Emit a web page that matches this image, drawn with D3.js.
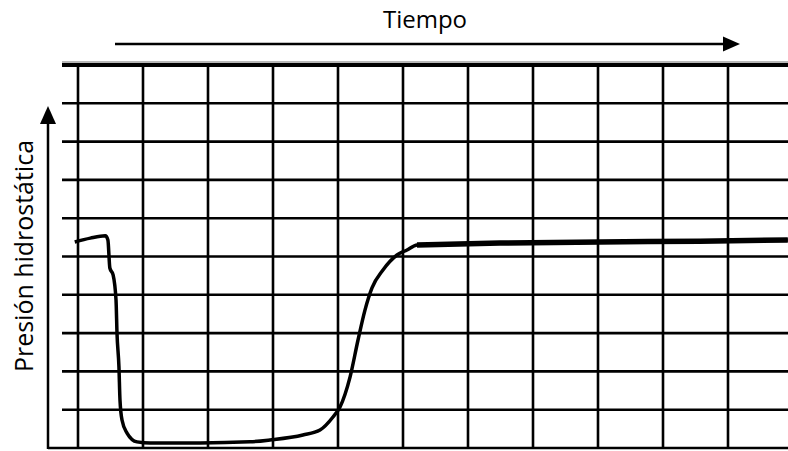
<!DOCTYPE html>
<html><head><meta charset="utf-8">
<script src="https://cdn.jsdelivr.net/npm/d3@7"></script>
<style>html,body{margin:0;padding:0;background:#fff;overflow:hidden}</style>
</head><body>
<svg id="chart" width="788" height="451"></svg>
<script>
// Data (grid units)
const timeGridTicks = [0,1,2,3,4,5,6,7,8,9,10];
const pressureGridTicks = [0,1,2,3,4,5,6,7,8,9,10];
const timeVals = [-0.05,0.19,0.42,0.46,0.49,0.54,0.585,0.60,0.63,0.646,0.677,0.754,0.908,1.108,1.877,2.646,2.954,3.46,3.723,3.923,4.031,4.185,4.308,4.415,4.523,4.692,4.908,5.062,5.215,6.492,8.03,9.57,10.92];
const pressureVals = [5.38,5.48,5.54,5.43,4.70,4.52,3.86,3.00,2.11,1.25,0.73,0.39,0.16,0.13,0.13,0.16,0.21,0.34,0.47,0.81,1.07,1.85,2.82,3.60,4.18,4.65,5.04,5.17,5.30,5.35,5.38,5.40,5.43];
const xTitle = "Tiempo";
const yTitle = "Presión hidrostática";

const svg = d3.select("#chart");
const x = d3.scaleLinear().domain([0,10]).range([78,728]);
const y = d3.scaleLinear().domain([0,10]).range([448,65]);

// grid: horizontal
svg.append("g").selectAll("line").data(pressureGridTicks).join("line")
  .attr("x1", d => d === 0 ? 48 : 62).attr("x2", 788)
  .attr("y1", d => y(d)).attr("y2", d => y(d))
  .attr("stroke", "#000").attr("stroke-width", d => d === 10 ? 4 : 2.6);
// fuzzy band above top line
svg.append("line").attr("x1",62).attr("x2",788).attr("y1",y(10)-3).attr("y2",y(10)-3)
  .attr("stroke","#888").attr("stroke-width",2).attr("opacity",0.6);
// grid: vertical
svg.append("g").selectAll("line").data(timeGridTicks).join("line")
  .attr("x1", d => x(d)).attr("x2", d => x(d))
  .attr("y1", y(10)).attr("y2", y(0))
  .attr("stroke", "#000").attr("stroke-width", 2.6);

// curve
const pts = timeVals.map((t,i) => [t, pressureVals[i]]);
const line = d3.line().x(d => x(d[0])).y(d => y(d[1])).curve(d3.curveMonotoneX);
svg.append("path").attr("d", line(pts)).attr("fill","none")
  .attr("stroke","#000").attr("stroke-width",3.5).attr("stroke-linejoin","round");
svg.append("path").attr("d", line(pts.filter(d => d[0] >= 5.2))).attr("fill","none")
  .attr("stroke","#000").attr("stroke-width",5.5);

// y axis arrow
svg.append("line").attr("x1",48).attr("x2",48).attr("y1",y(0)+1).attr("y2",120)
  .attr("stroke","#000").attr("stroke-width",2.5);
svg.append("path").attr("d","M48,106 L40,124 L56,124 Z").attr("fill","#000");
// x arrow
svg.append("line").attr("x1",115).attr("x2",726).attr("y1",44).attr("y2",44)
  .attr("stroke","#000").attr("stroke-width",2.5);
svg.append("path").attr("d","M740,44 L723,36.5 L723,51.5 Z").attr("fill","#000");

// titles
svg.append("text").attr("x",425).attr("y",28).attr("text-anchor","middle")
  .attr("font-family","'Open Sans', sans-serif").attr("font-size",24).attr("fill","#000")
  .text(xTitle);
svg.append("text").attr("transform","translate(33,256) rotate(-90)").attr("text-anchor","middle")
  .attr("font-family","'Open Sans', sans-serif").attr("font-size",25).attr("fill","#000")
  .attr("textLength",232).attr("lengthAdjust","spacingAndGlyphs")
  .text(yTitle);
</script>
</body></html>
